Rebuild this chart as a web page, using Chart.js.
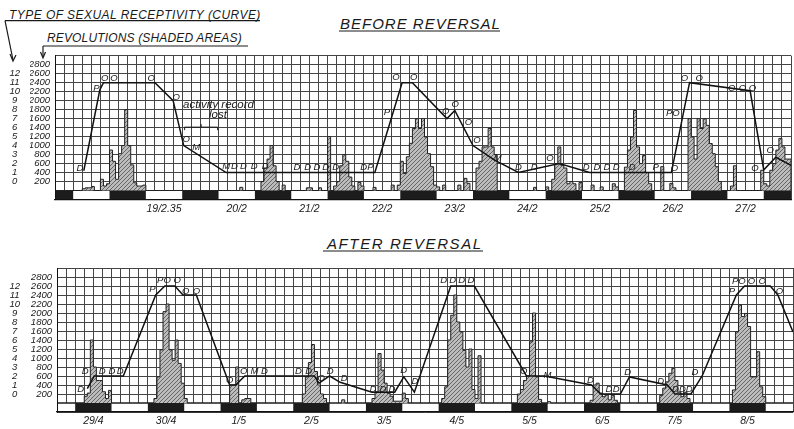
<!DOCTYPE html>
<html>
<head>
<meta charset="utf-8">
<script src="https://cdn.jsdelivr.net/npm/chart.js@4.4.0/dist/chart.umd.min.js"></script>
<style>
  html, body { margin: 0; padding: 0; background: #fff; }
  body { width: 794px; height: 429px; position: relative; overflow: hidden;
         font-family: "Liberation Sans", Arial, sans-serif; font-style: italic; color: #1a1a1a; }
  .lbl { position: absolute; white-space: nowrap; line-height: 1; }
  .wrap { position: absolute; left: 0; }
  svg { position: absolute; left: 0; top: 0; }
</style>
</head>
<body>
<div class="lbl" style="left:9px;top:8.5px;font-size:12px;letter-spacing:0.45px;">TYPE OF SEXUAL RECEPTIVITY (CURVE)</div>
<div class="lbl" style="left:47px;top:32px;font-size:12px;letter-spacing:0.15px;">REVOLUTIONS (SHADED AREAS)</div>
<div class="lbl" style="left:340px;top:15.5px;font-size:15px;letter-spacing:1px;">BEFORE REVERSAL</div>
<div class="lbl" style="left:327px;top:236px;font-size:15px;letter-spacing:1.6px;">AFTER REVERSAL</div>

<div class="wrap" style="top:40px;width:794px;height:180px;"><canvas id="chart-before"></canvas></div>
<div class="wrap" style="top:250px;width:796px;height:179px;"><canvas id="chart-after"></canvas></div>

<div class="lbl" style="left:183px;top:99px;font-size:11.5px;">activity record</div>
<div class="lbl" style="left:209px;top:108.5px;font-size:11.5px;">lost</div>

<svg width="794" height="429" fill="none" stroke="#1a1a1a" stroke-width="1.2">
  <line x1="5" y1="20.7" x2="260" y2="20.7"/>
  <line x1="5" y1="20.7" x2="13" y2="60"/>
  <polyline points="10,54 13,61 16,55"/>
  <line x1="43" y1="46" x2="248" y2="46"/>
  <line x1="43" y1="46" x2="43" y2="57"/>
  <polyline points="40.5,52 43,58 45.5,52"/>
  <line x1="339" y1="31" x2="500" y2="31"/>
  <line x1="323" y1="251" x2="483" y2="251"/>
</svg>

<script>
// ---- Data ----

// Tick labels
const revolutionTicks = [200, 400, 600, 800, 1000, 1200, 1400, 1600, 1800, 2000, 2200, 2400, 2600, 2800];
const receptivityTicks = [0, 1, 2, 3, 4, 5, 6, 7, 8, 9, 10, 11, 12];

const topDates = ['19/2.35', '20/2', '21/2', '22/2', '23/2', '24/2', '25/2', '26/2', '27/2'];
const topDateHours = [36, 60, 84, 108, 132, 156, 180, 204, 228];
const bottomDates = ['29/4', '30/4', '1/5', '2/5', '3/5', '4/5', '5/5', '6/5', '7/5', '8/5'];
const bottomDateHours = [12, 36, 60, 84, 108, 132, 156, 180, 204, 228];

// Light / dark periods: segment edges in hours, 1 = dark segment
const bandEdges = [0, 6, 18, 30, 42, 54, 66, 78, 90, 102, 114, 126, 138, 150, 162, 174, 186, 198, 210, 222, 234, 243];
const topBandDark = [1, 0, 1, 0, 1, 0, 1, 0, 1, 0, 1, 0, 1, 0, 1, 0, 1, 0, 1, 0, 1];
const bottomBandDark = [0, 1, 0, 1, 0, 1, 0, 1, 0, 1, 0, 1, 0, 1, 0, 1, 0, 1, 0, 1, 0];

// Wheel revolutions per hour: [first hour, values...]
const topActivity = [
    [9, [40, 60, 60, 90]],
    [15, [250, 100, 150, 900, 650, 250, 820, 1000, 1800, 1000, 570, 170, 100, 100, 120]],
    [61, [70]],
    [68, [200, 500, 700, 1000, 550, 200, 0, 120]],
    [83, [60, 60, 0, 0, 60]],
    [90, [1200, 0, 100, 200, 550, 800, 650, 300, 100, 0, 180, 100]],
    [105, [70]],
    [111, [120, 0, 120, 650, 380, 750, 1050, 1380, 1600, 1380, 1600, 1190, 820, 530, 120, 80, 0, 120]],
    [133, [120, 0, 270, 160]],
    [139, [500, 650, 970, 970, 1380, 970, 800]],
    [158, [70]],
    [162, [80, 0, 250, 600, 970, 560, 500, 150, 200, 150, 0, 180]],
    [177, [120, 0, 0, 80]],
    [184, [150, 80]],
    [188, [520, 900, 1190, 1780, 970, 600, 780, 400, 150]],
    [200, [530]],
    [203, [160, 60]],
    [209, [1600, 1190, 700, 1600, 1380, 1600, 1450, 1045, 820, 530, 200]],
    [223, [100, 550]],
    [233, [450, 150, 100, 450, 600, 900, 1160, 970, 700, 700]]
];
const bottomActivity = [
    [9, [150, 220, 1400, 800, 500, 500, 250, 100, 280]],
    [32, [100, 580, 1180, 2030, 2200, 1180, 950, 1400, 880, 440, 100]],
    [57, [400, 400, 800, 0, 70, 100, 100]],
    [81, [200, 580, 900, 1300, 700, 400, 200, 100]],
    [94, [70]],
    [104, [100, 250, 1100, 730, 440, 215, 150, 40, 40, 40, 220, 100]],
    [127, [100, 360, 1400, 1950, 2400, 1800, 1580, 1170, 800, 1200, 300, 100, 1050]],
    [152, [200, 300, 500, 600, 1360, 2000, 580, 80]],
    [162, [30]],
    [176, [60, 400, 440, 220, 140, 180, 70, 170, 60]],
    [199, [170, 330, 470, 660, 770, 500, 240, 140, 240, 100]],
    [223, [290, 1580, 2180, 1920, 1990, 1700, 580, 580, 1140, 360, 140]]
];

// Receptivity curve (hours, type 0-12)
const topCurveHours = [9.5, 14.8, 16, 33, 39, 42.5, 56.5, 105.6, 114.6, 118, 129.4, 132, 138, 145, 153, 166.5, 176.5, 203.5, 209.5, 229.5, 234, 238, 243];
const topCurveTypes = [1.2, 10.2, 11, 11, 9, 4, 1, 1, 11, 11, 7, 7.9, 4, 2.4, 1, 2, 1, 1, 11, 10.1, 1.3, 2.7, 1.8];
const bottomCurveHours = [10, 12.3, 21.9, 32.6, 35.6, 38.9, 41.6, 46, 57, 59, 62, 85, 86.5, 90, 93.5, 104, 111.5, 114.5, 118, 130, 137.8, 155, 161, 176.5, 179.5, 186, 189, 201.5, 204, 209.3, 213, 224.3, 227, 235.5, 238, 243];
const bottomCurveTypes = [0.6, 2, 2, 11, 12, 12, 11, 11, 1, 1, 2, 2, 1.2, 2, 1.3, 0.2, 0.2, 1.9, 0.2, 12, 12, 2, 2, 1, 0, 0, 1.9, 1, 0, 0, 2, 11, 12, 12, 11, 6.9];

// Smear stage letters written along the curve
const topLetters = ['D', 'P', 'O', 'O', 'O', 'O', 'O', 'M', 'M', 'D', 'D', 'D', 'D', 'D', 'D', 'D', 'D', 'D', 'DP', 'P', 'O', 'O', 'O', 'O', 'O', 'O', 'M', 'D', 'D', 'O', 'D', 'D', 'D', 'D', 'D', 'P', 'O', 'PO', 'O', 'O', 'O', 'O', 'O', 'O', 'O'];
const topLetterHours = [8.2, 13.7, 16.4, 19.5, 31.8, 40, 43.3, 46.6, 56.5, 59.2, 62.2, 65.8, 69.4, 79.9, 83.4, 86.5, 89.4, 92.7, 103, 109.6, 112.6, 118.4, 129, 132.1, 136.5, 139.3, 146.2, 153, 158.2, 163.4, 175.4, 178.9, 182.2, 185.3, 190.6, 198.3, 204.5, 204, 207.8, 212.7, 223.4, 227, 230.3, 231.1, 236.1];
const topLetterTypes = [1.49, 10.42, 11.53, 11.53, 11.53, 9.38, 4.7, 3.85, 1.66, 1.66, 1.66, 1.66, 1.66, 1.63, 1.63, 1.63, 1.63, 1.63, 1.6, 7.72, 11.6, 11.6, 7.83, 8.57, 6.62, 4.59, 2.56, 1.57, 1.57, 2.56, 1.63, 1.63, 1.63, 1.63, 1.57, 1.57, 1.46, 7.55, 11.53, 11.53, 10.42, 10.42, 10.42, 1.46, 3.48];
const bottomLetters = ['D', 'D', 'D', 'D', 'D', 'P', 'PO', 'O', 'O', 'O', 'O', 'O', 'M', 'D', 'D', 'D', 'O', 'D', 'D', 'D', 'D', 'D', 'D', 'D', 'D', 'D', 'D', 'D', 'O', 'M', 'D', 'D', 'D', 'D', 'D', 'D', 'D', 'D', 'D', 'P', 'PO', 'O', 'O', 'O'];
const bottomLetterHours = [7.8, 9.3, 14.9, 18.1, 20.9, 31.5, 35.3, 39.7, 42.5, 46, 57, 61.6, 65.2, 68.5, 79.7, 83.1, 87.2, 90.2, 94.8, 104.3, 107.6, 110.6, 114.5, 118.2, 127.7, 130.6, 133.6, 136.7, 154.1, 161.9, 176.1, 182.2, 184.6, 188.4, 199.3, 204.2, 206.5, 208.7, 210.6, 222.8, 225.1, 229.3, 232.8, 238.5];
const bottomLetterTypes = [0.5, 2.56, 2.56, 2.56, 2.56, 11.6, 12.6, 12.6, 11.44, 11.44, 1.56, 2.56, 2.56, 2.56, 2.56, 2.56, 1.72, 2.56, 1.72, 0.56, 0.56, 0.56, 2.63, 1.41, 12.6, 12.6, 12.6, 12.6, 2.56, 2.1, 1.56, 0.5, 0.5, 2.39, 1.44, 0.52, 0.52, 0.52, 2.39, 11.36, 12.47, 12.47, 12.47, 11.36];

// "activity record lost" bracket (hours, revolutions level)
const lostFrom = 42.8;
const lostTo = 53.7;
const lostLevel = 1410;

// ---- Helpers ----
const INK = '#1a1a1a';
const FONT = '"Liberation Sans", Arial, sans-serif';
const BAND_LOW = -200;

// hourly series from the runs, hours without a record are 0
function hourly(runs) {
    const vals = new Array(244).fill(0);
    runs.forEach(([start, list]) => list.forEach((v, i) => { vals[start + i] = v; }));
    return vals.map((v, h) => ({ x: h, y: v }));
}

function hatch() {
    const c = document.createElement('canvas');
    c.width = 4; c.height = 4;
    const g = c.getContext('2d');
    g.fillStyle = '#bcbcbc';
    g.fillRect(0, 0, 4, 4);
    g.strokeStyle = '#666';
    g.lineWidth = 1;
    g.beginPath(); g.moveTo(0, 4); g.lineTo(4, 0); g.stroke();
    return g.createPattern(c, 'repeat');
}

const letterPlugin = {
    id: 'letters',
    afterDatasetsDraw(chart, args, opts) {
        const { ctx, scales: { x, y2 } } = chart;
        ctx.save();
        ctx.font = 'italic 9.5px ' + FONT;
        ctx.fillStyle = INK;
        ctx.textAlign = 'center';
        ctx.textBaseline = 'middle';
        opts.text.forEach((t, i) => {
            ctx.fillText(t, x.getPixelForValue(opts.hours[i]), y2.getPixelForValue(opts.levels[i]));
        });

        // bracket for the missing record
        if (opts.gapFrom !== undefined) {
            const x1 = x.getPixelForValue(opts.gapFrom);
            const x2 = x.getPixelForValue(opts.gapTo);
            const yy = chart.scales.y.getPixelForValue(opts.gapLevel);
            ctx.strokeStyle = INK;
            ctx.lineWidth = 1;
            ctx.beginPath();
            ctx.moveTo(x1, yy + 3); ctx.lineTo(x1, yy); ctx.lineTo(x2, yy); ctx.lineTo(x2, yy + 3);
            ctx.moveTo((x1 + x2) / 2, yy); ctx.lineTo((x1 + x2) / 2, yy - 3);
            ctx.stroke();
        }
        ctx.restore();
    }
};

function makeChart(id, cfg) {
    const tickFont = { family: FONT, size: 9.5, style: 'italic' };
    const last = cfg.dark.length - 1;
    return new Chart(document.getElementById(id), {
        type: 'line',
        data: {
            datasets: [
                {
                    label: 'Type of sexual receptivity',
                    data: cfg.curveHours.map((h, i) => ({ x: h, y: cfg.curveTypes[i] })),
                    yAxisID: 'y2',
                    borderColor: '#111',
                    borderWidth: 1.5,
                    pointRadius: 0,
                    tension: 0,
                    order: 0
                },
                {
                    label: 'Revolutions',
                    data: hourly(cfg.activity),
                    yAxisID: 'y',
                    stepped: 'before',
                    fill: 'origin',
                    backgroundColor: hatch(),
                    borderColor: '#222',
                    borderWidth: 1,
                    pointRadius: 0,
                    order: 1
                },
                {
                    label: 'Dark',
                    data: bandEdges.map((h, i) => ({ x: h, y: cfg.dark[Math.min(i, last)] ? 0 : BAND_LOW })),
                    yAxisID: 'y',
                    stepped: 'before',
                    fill: { value: BAND_LOW },
                    backgroundColor: '#1c1c1c',
                    borderWidth: 0,
                    pointRadius: 0,
                    order: 2
                },
                {
                    label: 'Light',
                    data: [{ x: bandEdges[0], y: 0 }, { x: bandEdges[bandEdges.length - 1], y: 0 }],
                    yAxisID: 'y',
                    fill: { value: BAND_LOW },
                    backgroundColor: '#ffffff',
                    borderColor: '#111',
                    borderWidth: 1.2,
                    pointRadius: 0,
                    order: 3
                }
            ]
        },
        options: {
            responsive: true,
            maintainAspectRatio: false,
            animation: false,
            events: [],
            layout: { padding: { top: cfg.padTop, right: 0, left: 0, bottom: 0 } },
            plugins: {
                legend: { display: false },
                tooltip: { enabled: false },
                letters: cfg.letters
            },
            scales: {
                x: {
                    type: 'linear',
                    min: 0,
                    max: 243,
                    offset: false,
                    ticks: {
                        stepSize: 3,
                        autoSkip: false,
                        maxRotation: 0,
                        minRotation: 0,
                        padding: 3,
                        color: INK,
                        font: { family: FONT, size: 10.5, style: 'italic' },
                        callback: v => {
                            const i = cfg.dateHours.indexOf(v);
                            return i >= 0 ? cfg.dates[i] : '';
                        }
                    },
                    grid: { color: '#444', lineWidth: 1, drawTicks: false },
                    border: { color: '#111', width: 1.3, z: 1 },
                    afterFit: s => { s.height = cfg.axisHeight; }
                },
                y: {
                    position: 'left',
                    weight: 0,
                    min: -200,
                    max: 3000,
                    ticks: {
                        stepSize: 200,
                        autoSkip: false,
                        padding: 5,
                        color: INK,
                        font: tickFont,
                        callback: v => revolutionTicks.includes(v) ? String(v) : ''
                    },
                    grid: { color: '#444', lineWidth: 1, drawTicks: false },
                    border: { color: '#111', width: 1, z: 1 },
                    afterFit: s => { s.width = cfg.revWidth; }
                },
                y2: {
                    position: 'left',
                    weight: 1,
                    min: -2,
                    max: 14,
                    ticks: {
                        stepSize: 1,
                        autoSkip: false,
                        padding: cfg.typePad,
                        crossAlign: 'center',
                        color: INK,
                        font: tickFont,
                        callback: v => receptivityTicks.includes(v) ? String(v) : ''
                    },
                    grid: { display: false, drawTicks: false },
                    border: { display: false },
                    afterFit: s => { s.width = cfg.typeWidth; }
                }
            }
        },
        plugins: [letterPlugin]
    });
}

// Before reversal
makeChart('chart-before', {
    curveHours: topCurveHours,
    curveTypes: topCurveTypes,
    activity: topActivity,
    dark: topBandDark,
    dates: topDates,
    dateHours: topDateHours,
    padTop: 15,
    axisHeight: 20.5,
    typeWidth: 30,
    typePad: 10,
    revWidth: 25,
    letters: {
        text: topLetters, hours: topLetterHours, levels: topLetterTypes,
        gapFrom: lostFrom, gapTo: lostTo, gapLevel: lostLevel
    }
});

// After reversal
makeChart('chart-after', {
    curveHours: bottomCurveHours,
    curveTypes: bottomCurveTypes,
    activity: bottomActivity,
    dark: bottomBandDark,
    dates: bottomDates,
    dateHours: bottomDateHours,
    padTop: 18,
    axisHeight: 17,
    typeWidth: 31,
    typePad: 11,
    revWidth: 26,
    letters: { text: bottomLetters, hours: bottomLetterHours, levels: bottomLetterTypes }
});
</script>
</body>
</html>
